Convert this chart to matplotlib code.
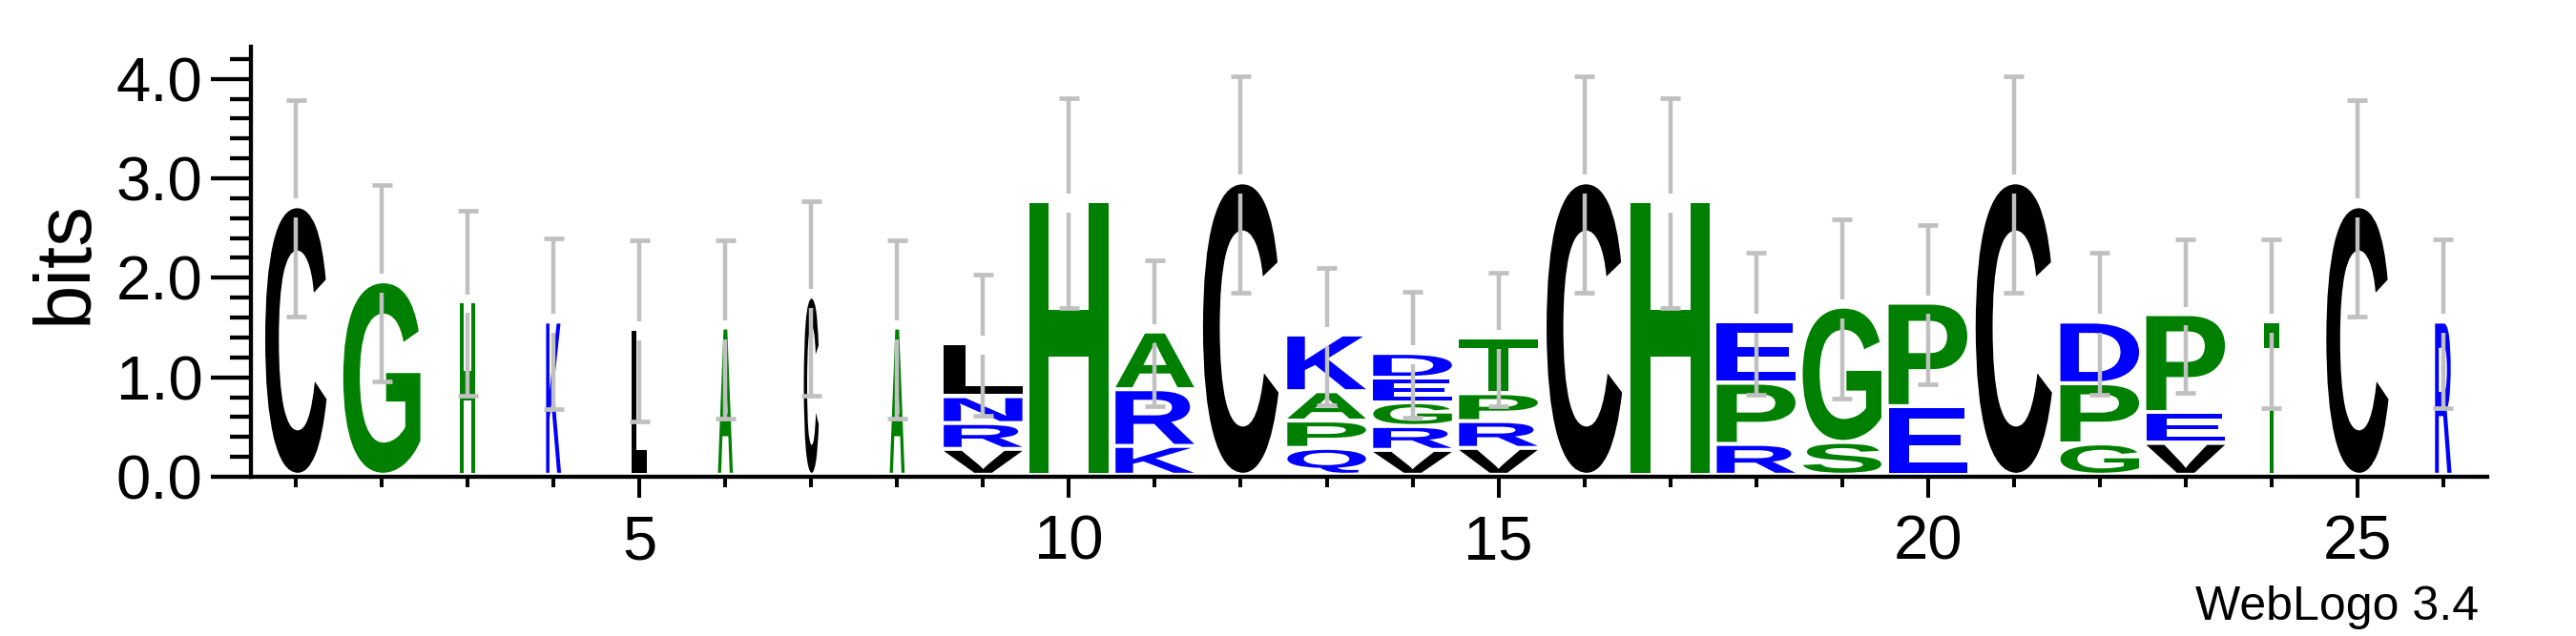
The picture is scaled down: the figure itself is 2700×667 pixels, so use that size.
import matplotlib
matplotlib.use('Agg')
import matplotlib.pyplot as plt
from matplotlib.textpath import TextPath
from matplotlib.font_manager import FontProperties
from matplotlib.patches import PathPatch
from matplotlib.transforms import Affine2D
from matplotlib.ticker import MultipleLocator, FixedLocator, FormatStrFormatter

plt.rcParams['font.family'] = ['Liberation Sans', 'DejaVu Sans']

# sequence logo columns: letters bottom -> top, heights in bits
positions = list(range(1, 27))
letters = ['C', 'G', 'H', 'K', 'L', 'A', 'C', 'A', 'VRNL', 'H', 'KRA', 'C', 'QPAK',
           'VRGED', 'VRPT', 'C', 'H', 'RPE', 'SG', 'EP', 'C', 'GPD', 'VEP', 'T', 'C', 'R']
heights = [[2.66], [1.905], [1.70], [1.50], [1.43], [1.44], [1.75], [1.44],
           [0.22, 0.26, 0.27, 0.53], [2.715], [0.25, 0.57, 0.58], [2.90],
           [0.23, 0.275, 0.295, 0.57], [0.21, 0.24, 0.24, 0.245, 0.25],
           [0.23, 0.27, 0.28, 0.56], [2.90], [2.715], [0.27, 0.615, 0.615],
           [0.29, 1.36], [0.65, 1.04], [2.90], [0.275, 0.605, 0.62],
           [0.28, 0.31, 0.985], [1.50], [2.66], [1.50]]
errors = [1.09, 0.985, 0.93, 0.86, 0.91, 0.895, 0.98, 0.895, 0.71, 1.055, 0.735, 1.09, 0.69,
          0.63, 0.67, 1.09, 1.055, 0.715, 0.90, 0.80, 1.09, 0.715, 0.77, 0.85, 1.09, 0.85]
# column weight (fraction of sequences without gap) -> letter width
weights = [0.78, 0.98, 0.19, 0.19, 0.19, 0.19, 0.19, 0.19, 1.0, 1.0, 1.0, 0.96, 1.0,
           1.0, 1.0, 0.96, 1.0, 1.0, 1.0, 1.0, 0.97, 1.0, 1.0, 0.20, 0.79, 0.21]

# hydrophobicity colour scheme
colors = {}
for c in 'YVMCLFIW':
    colors[c] = 'black'
for c in 'SGHTAP':
    colors[c] = '#008000'
for c in 'RKDENQ':
    colors[c] = '#0000ff'

fp = FontProperties(family='Liberation Sans', weight='bold')


def draw_letter(ax, ch, x, y0, w, h):
    path = TextPath((0, 0), ch, size=1, prop=fp)
    ext = path.get_extents()
    tr = Affine2D().translate(-ext.x0, -ext.y0) \
        .scale(w / ext.width, h / ext.height) \
        .translate(x - w / 2, y0)
    patch = PathPatch(path, transform=tr + ax.transData, facecolor=colors[ch],
                      edgecolor='none', lw=0, zorder=2)
    ax.add_patch(patch)


fig = plt.figure(figsize=(27, 6.67), dpi=100)
ax = fig.add_axes([0.0974, 0.2504, 0.8681, 0.6756])

base = 0.04
gap = 0.04
full_w = 0.916
for x, lets, hs, wt in zip(positions, letters, heights, weights):
    y = base
    for k, (ch, h) in enumerate(zip(lets, hs)):
        g = gap if k > 0 else 0
        draw_letter(ax, ch, x, y + g, full_w * wt, h - g)
        y += h

# error bars, interrupted around the stack top
tops = [base + sum(hs) for hs in heights]
hole = 0.095
ebc = '#c0c0c0'
for x, t, e in zip(positions, tops, errors):
    ax.vlines(x, t + hole, t + e, color=ebc, lw=3.2, zorder=3)
    ax.vlines(x, t - e, t - hole, color=ebc, lw=3.2, zorder=3)
    ax.hlines([t - e, t + e], x - 0.117, x + 0.117, color=ebc, lw=3.4, zorder=3)

ax.set_xlim(0.476, 26.51)
ax.set_ylim(0, 4.32)
ax.spines['top'].set_visible(False)
ax.spines['right'].set_visible(False)
ax.spines['left'].set_linewidth(3.1)
ax.spines['bottom'].set_linewidth(3.1)

ax.xaxis.set_major_locator(FixedLocator([5, 10, 15, 20, 25]))
ax.xaxis.set_minor_locator(MultipleLocator(1))
ax.yaxis.set_major_locator(MultipleLocator(1))
ax.yaxis.set_minor_locator(MultipleLocator(0.2))
ax.yaxis.set_major_formatter(FormatStrFormatter('%.1f'))

ax.tick_params(axis='x', which='major', direction='out', length=15.8, width=2.9,
               pad=13, labelsize=47)
ax.tick_params(axis='x', which='minor', direction='out', length=8, width=2.9)
ax.tick_params(axis='y', which='major', direction='out', length=30, width=3.1,
               pad=6.5, labelsize=47)
ax.tick_params(axis='y', which='minor', direction='out', length=16, width=3.1)

fig.text(0.0256, 0.587, 'bits', rotation=90, ha='center', va='center', fontsize=60)
fig.text(0.9622, 0.0255, 'WebLogo 3.4', ha='right', va='baseline', fontsize=36)

fig.savefig('out.png', dpi=100)
